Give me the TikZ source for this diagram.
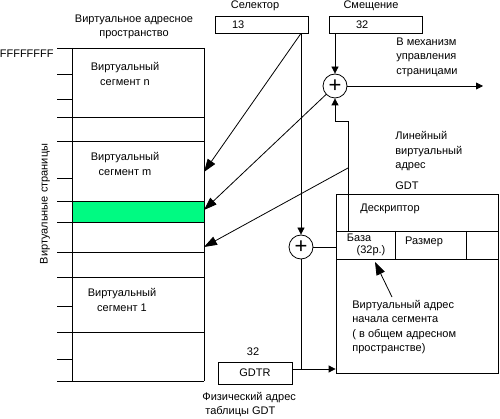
\documentclass[tikz,border=0pt]{standalone}
\usepackage{fontspec}
\setmainfont{Liberation Sans}
\usetikzlibrary{arrows.meta,positioning}
\definecolor{pagegreen}{RGB}{0,250,130}

\begin{document}
\begin{tikzpicture}[x=1pt,y=-1pt,line width=0.8pt,
    font=\fontsize{11}{14.5}\selectfont,
    box/.style={draw,inner sep=0pt,minimum height=17pt},
    summ/.style={draw,circle,inner sep=0pt,minimum size=24pt,font=\fontsize{22}{22}\selectfont},
    txt/.style={inner sep=0pt,align=left},
    tip/.style={-{Triangle[length=7pt,width=7pt]}},
    bigtip/.style={-{Triangle[length=13pt,width=9pt]}}]
  \useasboundingbox (0,0) rectangle (500,419);
  \def\xl{72}   % left edge of the address space
  \def\xr{204}  % right edge
  \def\xt{57}   % ticks start here
  \def\xg{336}  % left edge of GDT
  % address space
  \fill[pagegreen] (\xl,201) rectangle (\xr,222);
  \foreach \y in {48,117,141,201,222,252,277,332,381} { \draw (\xt,\y) -- (\xr,\y); }
  \foreach \y in {74,99,178,306,359} { \draw (\xt,\y) -- (\xl,\y); }
  \draw (\xl,48) -- (\xl,381);
  \draw (\xr,48) -- (\xr,381);
  \node[align=center,inner sep=0pt] (space) at (134,27) {Виртуальное адресное\\пространство};
  \node[anchor=east,inner sep=0pt] (ffff) at (54,54) {FFFFFFFF};
  \node[rotate=90,inner sep=0pt] (pages) at (45,204) {Виртуальные страницы};
  \node[align=center,inner sep=0pt] (segn) at (125,74) {Виртуальный\\сегмент n};
  \node[align=center,inner sep=0pt] (segm) at (125,164) {Виртуальный\\сегмент m};
  \node[align=center,inner sep=0pt] (seg1) at (122,300) {Виртуальный\\сегмент 1};
  \coordinate (segmtip) at (\xr,172);
  \coordinate (pagetip) at (\xr,210);
  \coordinate (seg2tip) at (\xr,247);
  % selector and offset
  \node[box,minimum width=93pt] (sel) at (261.5,24.5) {};
  \node[txt,anchor=west] (selval) at ([xshift=17pt]sel.west) {13};
  \node[txt] (sellbl) at (255,6) {Селектор};
  \node[box,minimum width=93pt] (off) at (375.5,24.5) {};
  \node[txt,anchor=west] (offval) at ([xshift=27pt]off.west) {32};
  \node[txt] (offlbl) at (371,6) {Смещение};
  % adders
  \node[summ] (sum1) at (335,86) {+};
  \node[summ] (sum2) at (301,247) {+};
  \coordinate (mmu) at (483,86);
  \node[txt,anchor=west] (mmutxt) at (396,57) {В механизм\\управления\\страницами};
  \node[txt,anchor=west] (lin) at (395,151.5) {Линейный\\виртуальный\\адрес};
  % GDT
  \node[draw,minimum width=162pt,minimum height=179pt,inner sep=0pt] (gdt) at (417,283.5) {};
  \draw (\xg,231) -- (498,231);
  \draw (\xg,259) -- (498,259);
  \draw (395,231) -- (395,259);
  \draw (466,231) -- (466,259);
  \node[txt,anchor=west] (gdtlbl) at (395,186) {GDT};
  \node[txt] (desc) at (390,209) {Дескриптор};
  \node[txt] (base) at (359,238) {База};
  \node[txt] (base32) at (371,251) {(32р.)};
  \node[txt] (size) at (424,242) {Размер};
  \node[txt,anchor=west] (vaddr) at (352,327) {Виртуальный адрес\\начала сегмента\\( в общем адресном\\пространстве)};
  % GDTR
  \node[box,minimum width=74pt,minimum height=22pt] (gdtr) at (255,373) {GDTR};
  \node[txt] (gdtrw) at (253,352) {32};
  \node[txt,anchor=west] (phys) at (202,404.5) {Физический адрес\\\hspace*{3pt}таблицы GDT};
  \coordinate (gdtrout) at ([yshift=4pt]gdtr.east);
  \coordinate (selout) at (sel.south -| sum2);
  \coordinate (basetop) at (348,231);
  \coordinate (bend) at (348,121);
  \coordinate (linpt) at (348,168);
  \coordinate (vtail) at (392,297);
  \coordinate (vtip) at (375,262);
  % connectors
  \draw[tip] (off.south -| sum1) -- (sum1.north);
  \draw[tip] (sum1) -- (mmu);
  \draw[tip] (selout) -- (sum2.north);
  \draw[bigtip] (selout) -- (segmtip);
  \draw[bigtip] (sum1) -- (pagetip);
  \draw[tip] (basetop) -- (bend) -| (sum1.south);
  \draw[bigtip] (linpt) -- (seg2tip);
  \draw (sum2) -- (sum2 -| gdt.west);
  \draw (sum2.south) -- (sum2 |- gdtrout);
  \draw[tip] (gdtrout) -- (gdtrout -| gdt.west);
  \draw[bigtip] (vtail) -- (vtip);
\end{tikzpicture}
\end{document}
